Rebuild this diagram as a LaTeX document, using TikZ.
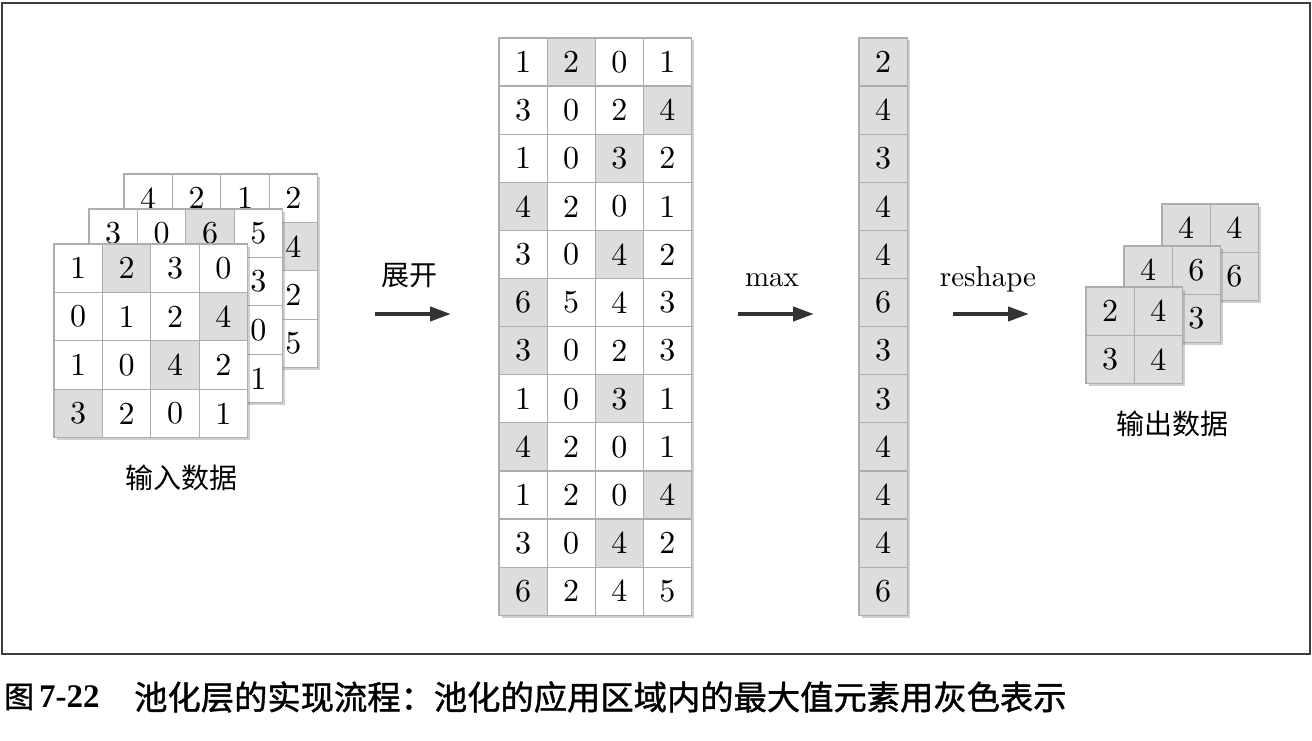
\documentclass[tikz,border=0pt]{standalone}
\usepackage{fontspec}
\setmainfont{Latin Modern Roman}
\newfontfamily\numfont{lmroman10-regular.otf}
\newfontfamily\cjk{Noto Sans CJK SC}
\newfontfamily\cjkcap{Noto Sans CJK SC}[FakeBold=1.2]
\newfontfamily\capnum{Liberation Serif}
\usetikzlibrary{arrows.meta,shadows}
\definecolor{cellgray}{HTML}{DCDDDF}
\definecolor{cellline}{HTML}{ADADAD}
\definecolor{framecol}{HTML}{3C3C3C}
\definecolor{arrowcol}{HTML}{333333}
\tikzset{
  cell/.style={draw=cellline, line width=1.2pt, minimum size=#1pt, inner sep=0pt, outer sep=0pt,
    font=\numfont\fontsize{32}{32}\selectfont},
  gridshadow/.style={drop shadow={shadow xshift=2.5pt, shadow yshift=-2.5pt, opacity=0.3, fill=black!60}},
  bigarrow/.style={draw=arrowcol, line width=4pt, -{Triangle[length=21pt, width=14pt]}},
  cjklabel/.style={font=\cjk\fontsize{28}{28}\selectfont, inner sep=0pt},
  mathlabel/.style={font=\numfont\fontsize{29}{29}\selectfont, inner sep=0pt},
  frame/.style={draw=framecol, line width=2.2pt}
}
\newcommand\mkgrid[7]{%
  \path[fill=white, gridshadow] (#2,#3) rectangle ({#2+#5*#4},{#3+#6*#4});
  \foreach \row [count=\r] in {#7} {
    \foreach \v/\g [count=\c] in \row {
      \ifnum\g=1 \def\cf{cellgray}\else\def\cf{white}\fi
      \node[cell=#4, fill=\cf] (#1-\r-\c) at ({#2+(\c-0.5)*#4},{#3+(\r-0.5)*#4}) {\raisebox{-1.5pt}{\v}};
    }
  }
}
\begin{document}
\begin{tikzpicture}[x=1pt,y=-1pt]
\useasboundingbox (0,0) rectangle (1312,741);
\fill[white] (0,0) rectangle (1312,741);
\draw[frame] (2,3) rectangle (1310,654);
% input data
\mkgrid{ib}{124}{174}{48.4}{4}{4}{{4/0,2/0,1/0,2/0},{0/0,1/0,0/0,4/1},{3/0,0/0,6/1,2/0},{4/1,2/0,4/0,5/0}}
\mkgrid{im}{89}{209}{48.4}{4}{4}{{3/0,0/0,6/1,5/0},{4/1,2/0,4/0,3/0},{3/1,0/0,1/0,0/0},{2/0,3/0,3/1,1/0}}
\mkgrid{if}{54}{244}{48.4}{4}{4}{{1/0,2/1,3/0,0/0},{0/0,1/0,2/0,4/1},{1/0,0/0,4/1,2/0},{3/1,2/0,0/0,1/0}}
\node[cjklabel] (inlabel) at (181,478) {输入数据};
% expanded
\mkgrid{ex}{499}{38}{48.1}{4}{12}{{1/0,2/1,0/0,1/0},{3/0,0/0,2/0,4/1},{1/0,0/0,3/1,2/0},{4/1,2/0,0/0,1/0},{3/0,0/0,4/1,2/0},{6/1,5/0,4/0,3/0},{3/1,0/0,2/0,3/0},{1/0,0/0,3/1,1/0},{4/1,2/0,0/0,1/0},{1/0,2/0,0/0,4/1},{3/0,0/0,4/1,2/0},{6/1,2/0,4/0,5/0}}
% max column
\mkgrid{mx}{859}{38}{48.1}{1}{12}{{2/1},{4/1},{3/1},{4/1},{4/1},{6/1},{3/1},{3/1},{4/1},{4/1},{4/1},{6/1}}
% output data
\mkgrid{ob}{1162}{204}{48.2}{2}{2}{{4/1,4/1},{4/1,6/1}}
\mkgrid{om}{1124}{246}{48.2}{2}{2}{{4/1,6/1},{3/1,3/1}}
\mkgrid{of}{1086}{287}{48.2}{2}{2}{{2/1,4/1},{3/1,4/1}}
\node[cjklabel] (outlabel) at (1172,424) {输出数据};
% arrows
\coordinate (a1s) at (375,314); \coordinate (a1e) at (451,314);
\coordinate (a2s) at (738,314); \coordinate (a2e) at (814,314);
\coordinate (a3s) at (953,314); \coordinate (a3e) at (1029,314);
\draw[bigarrow] (a1s) -- (a1e);
\draw[bigarrow] (a2s) -- (a2e);
\draw[bigarrow] (a3s) -- (a3e);
\node[cjklabel] (l1) at (409,276) {展开};
\node[mathlabel, anchor=base] (l2) at (772,286) {max};
\node[mathlabel, anchor=base] (l3) at (988,286) {reshape};
% caption
\node[anchor=west, inner sep=0pt, font=\cjkcap\fontsize{30}{30}\selectfont] (capA) at (4,697) {图\,{\capnum\bfseries\fontsize{33}{33}\selectfont 7-22}};
\node[anchor=west, inner sep=0pt, font=\cjkcap\fontsize{33.3}{33.3}\selectfont] (capB) at (134,697) {池化层的实现流程：池化的应用区域内的最大值元素用灰色表示};
\end{tikzpicture}
\end{document}
